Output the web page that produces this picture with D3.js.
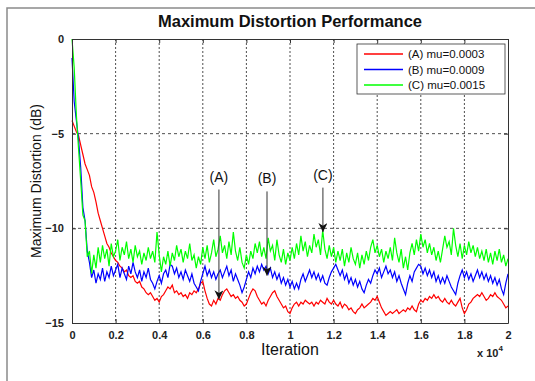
<!DOCTYPE html>
<html>
<head>
<meta charset="utf-8">
<script src="https://cdn.jsdelivr.net/npm/d3@7"></script>
<style>
  body { margin: 0; background: #fff; }
  text { font-family: Arial, "Liberation Sans", sans-serif; }
</style>
</head>
<body>
<div id="chart"></div>
<script>
// iteration grid: 0..20000 step 100
const iterations = d3.range(0, 20001, 100);

const seriesA = [
  -4.3, -4.6, -4.9, -5.1, -5.6, -6.1, -6.6, -6.9, -7.2, -7.8,
  -8.1, -8.6, -9.2, -9.6, -10.0, -10.4, -10.8, -11.0, -11.3, -11.5,
  -11.7, -11.8, -12.0, -12.1, -12.3, -12.2, -12.5, -12.6, -12.5, -12.8,
  -12.9, -12.8, -13.1, -13.2, -13.4, -13.5, -13.4, -13.6, -13.8, -13.7,
  -13.9, -13.6, -13.5, -13.3, -13.1, -13.2, -13.0, -13.4, -13.3, -13.5,
  -13.4, -13.6, -13.5, -13.7, -13.4, -13.5, -13.3, -13.4, -13.2, -12.9,
  -12.8, -13.3, -13.7, -14.0, -14.1, -13.8, -14.0, -13.7, -13.8, -13.5,
  -13.3, -13.2, -13.4, -13.6, -13.5, -13.7, -13.6, -13.8, -13.9, -14.1,
  -14.0, -13.7, -13.4, -13.2, -13.3, -13.6, -13.8, -14.0, -13.9, -14.1,
  -13.8, -13.6, -13.4, -13.3, -13.6, -13.8, -14.0, -14.2, -14.1, -14.4,
  -14.5, -14.2, -14.0, -13.9, -14.1, -13.9, -14.0, -13.8, -13.9, -14.0,
  -13.9, -14.1, -13.9, -14.0, -13.8, -13.9, -14.0, -13.7, -13.9, -14.0,
  -13.8, -14.0, -14.1, -13.9, -14.2, -14.0, -14.1, -14.3, -14.2, -14.4,
  -14.5, -14.3, -14.2, -14.0, -14.2, -14.1, -14.0, -13.9, -13.7, -13.8,
  -13.6, -13.9, -14.2, -14.4, -14.6, -14.5, -14.4, -14.5, -14.4, -14.3,
  -14.5, -14.4, -14.3, -14.4, -14.2, -14.3, -14.1, -14.3, -14.4, -14.0,
  -13.8, -13.9, -13.7, -13.8, -13.6, -13.7, -13.5, -13.7, -13.6, -13.8,
  -13.9, -13.7, -13.9, -14.0, -13.8, -14.0, -14.1, -13.9, -13.7, -14.2,
  -14.5, -14.3, -14.0, -13.9, -13.7, -13.6, -13.5, -13.6, -13.4, -13.6,
  -13.8, -13.7, -13.5, -13.6, -13.4, -13.6, -13.7, -13.8, -14.0, -14.2,
  -14.1
];

const seriesB = [
  -1.0, -3.3, -4.3, -5.3, -6.8, -8.9, -9.6, -11.2, -11.8, -12.6,
  -12.2, -12.9, -12.4, -12.7, -12.1, -12.8, -12.3, -12.6, -12.0, -12.5,
  -12.2, -11.9, -12.6, -12.1, -12.4, -12.7, -12.0, -12.4, -11.8, -12.3,
  -12.6, -12.2, -12.8, -12.3, -12.6, -12.1, -12.7, -12.9, -13.2, -12.8,
  -12.5, -12.9, -12.4, -12.2, -12.6, -11.9, -12.0, -12.4, -12.1, -12.6,
  -12.3, -12.7, -12.2, -12.5, -12.8, -12.4, -12.9, -13.1, -13.3, -12.8,
  -12.4, -12.0, -12.5, -12.2, -12.6, -12.3, -12.7, -12.4, -12.2, -12.6,
  -12.3, -12.0, -12.5, -12.2, -12.8, -12.4, -12.7, -13.0, -13.4, -13.1,
  -12.7, -12.3, -12.6, -12.1, -12.4, -12.0, -12.3, -11.9, -12.2, -12.0,
  -12.4, -12.1, -12.6, -12.3, -12.7, -12.4, -12.9, -12.6, -13.0, -12.7,
  -13.1, -12.8, -13.2, -12.9, -13.2, -12.7, -12.4, -12.8, -12.5, -12.2,
  -12.6, -12.3, -12.7, -12.4, -12.8, -12.5, -12.9, -13.0, -12.6, -12.3,
  -12.1, -11.9, -12.2, -12.5, -12.2, -12.7, -12.4, -12.9, -12.6, -13.0,
  -12.7, -13.1, -12.8, -13.2, -13.4, -13.0, -12.7, -12.9, -12.5, -12.2,
  -12.4, -12.1, -12.6, -12.3, -12.0, -12.4, -12.2, -12.6, -12.3, -12.8,
  -12.5, -12.9, -13.2, -13.5, -12.9, -12.5, -12.8, -12.3, -12.1, -11.9,
  -12.0, -12.4, -12.1, -12.5, -12.2, -12.6, -12.3, -12.8, -12.5, -12.9,
  -12.6, -12.9, -12.5, -12.8, -13.1, -13.3, -13.5, -12.9, -12.5, -12.2,
  -12.6, -12.3, -12.7, -12.4, -12.8, -12.5, -12.2, -12.6, -12.3, -12.7,
  -12.4, -12.8, -12.5, -12.9, -12.6, -13.0, -12.7, -13.2, -13.5, -12.9,
  -12.4
];

const seriesC = [
  0.0, -1.5, -4.0, -5.8, -7.5, -9.3, -9.6, -11.5, -11.2, -12.4,
  -11.4, -12.1, -11.0, -11.8, -10.9, -11.6, -11.1, -12.0, -10.8, -11.5,
  -11.2, -10.6, -11.7, -11.0, -11.4, -10.7, -11.6, -11.1, -11.8, -10.9,
  -11.5, -11.2, -11.9, -11.3, -11.7, -11.0, -11.6, -11.2, -11.8, -10.2,
  -11.4, -12.3, -11.5, -11.9, -11.2, -12.0, -11.3, -11.7, -10.9, -11.5,
  -11.1, -11.8, -11.2, -11.6, -10.8, -11.7, -11.4, -12.1, -11.5, -11.9,
  -11.0, -11.6, -10.9, -11.8, -11.3, -10.6, -11.5, -11.1, -10.4, -11.3,
  -10.9, -11.6, -10.7, -11.4, -10.2, -11.2, -11.7, -11.0, -11.8, -12.1,
  -11.4, -11.9, -11.2, -11.6, -10.8, -11.3, -10.7, -11.5, -11.0, -11.6,
  -10.5, -11.2, -10.9, -11.7, -10.6, -11.4, -11.8, -11.1, -11.9, -11.3,
  -11.7, -11.0, -11.6, -10.8, -11.4, -10.4, -11.2, -10.7, -11.5, -10.9,
  -11.3, -10.3, -11.0, -10.6, -11.4, -10.1, -11.1, -11.6, -10.9, -11.5,
  -11.0, -11.8, -11.2, -11.7, -11.1, -12.0, -11.3, -11.8, -11.0, -11.6,
  -11.9, -11.3, -12.1, -11.4, -11.9, -11.2, -11.7, -11.0, -10.6, -11.3,
  -10.9, -11.5, -11.1, -11.8, -11.2, -11.6, -11.0, -11.7, -10.5, -11.3,
  -11.8, -11.1, -12.1, -11.5, -12.2, -11.3, -10.8, -11.4, -10.6, -11.2,
  -10.3, -11.0, -10.6, -11.3, -10.8, -11.4, -11.0, -11.7, -11.2, -11.8,
  -11.1, -10.4, -11.0, -10.7, -11.4, -10.0, -10.9, -11.5, -10.8, -11.6,
  -10.9, -11.4, -10.7, -11.3, -10.9, -11.5, -11.0, -11.6, -11.2, -11.7,
  -11.1, -11.8, -11.3, -11.9, -11.2, -11.7, -11.1, -11.8, -11.4, -12.0,
  -11.6
];

const legendLabels = ['(A) mu=0.0003', '(B) mu=0.0009', '(C) mu=0.0015'];
const seriesColors = ['#ff0000', '#0000ff', '#00ff00'];
const xTicks = [0, 2000, 4000, 6000, 8000, 10000, 12000, 14000, 16000, 18000, 20000];
const xTickLabels = ['0', '0.2', '0.4', '0.6', '0.8', '1', '1.2', '1.4', '1.6', '1.8', '2'];
const yTicks = [0, -5, -10, -15];

// annotation arrows: label, iteration, start value, tip value
const notes = [
  { label: '(A)', iter: 6740, from: -7.95, to: -13.75 },
  { label: '(B)', iter: 8945, from: -8.05, to: -12.5 },
  { label: '(C)', iter: 11510, from: -7.85, to: -10.2 }
];

const width = 535, height = 381;
const margin = { left: 72, right: 27, top: 39, bottom: 58 };
const w = width - margin.left - margin.right;
const h = height - margin.top - margin.bottom;

const svg = d3.select('#chart').append('svg')
  .attr('width', width).attr('height', height);

// outer frame
svg.append('rect')
  .attr('x', 7).attr('y', 8).attr('width', 560).attr('height', 400)
  .attr('fill', 'none').attr('stroke', '#8a8a8a').attr('stroke-width', 1.5);

const x = d3.scaleLinear().domain([0, 20000]).range([0, w]);
const y = d3.scaleLinear().domain([-15, 0]).range([h, 0]);

const g = svg.append('g').attr('transform', `translate(${margin.left},${margin.top})`);

// grid
g.append('g').selectAll('line').data(xTicks.slice(1, -1)).enter().append('line')
  .attr('x1', d => x(d)).attr('x2', d => x(d))
  .attr('y1', 0).attr('y2', h)
  .attr('stroke', '#222').attr('stroke-width', 0.8).attr('stroke-dasharray', '2,2');
g.append('g').selectAll('line').data(yTicks.slice(1, -1)).enter().append('line')
  .attr('x1', 0).attr('x2', w)
  .attr('y1', d => y(d)).attr('y2', d => y(d))
  .attr('stroke', '#222').attr('stroke-width', 0.8).attr('stroke-dasharray', '3,3');

// lines
const line = d3.line().x((d, i) => x(iterations[i])).y(d => y(d));
[seriesA, seriesB, seriesC].forEach((s, i) => {
  g.append('path').datum(s)
    .attr('d', line)
    .attr('fill', 'none')
    .attr('stroke', seriesColors[i])
    .attr('stroke-width', 1.2);
});

// axes (ticks inside, MATLAB style)
const xAxis = d3.axisBottom(x).tickValues(xTicks).tickFormat((d, i) => xTickLabels[i]).tickSizeInner(-4).tickSizeOuter(0).tickPadding(8);
const yAxis = d3.axisLeft(y).tickValues(yTicks).tickFormat(d3.format('d')).tickSizeInner(-4).tickSizeOuter(0).tickPadding(8);
const xTop = d3.axisTop(x).tickValues(xTicks).tickFormat('').tickSizeInner(-4).tickSizeOuter(0);
const yRight = d3.axisRight(y).tickValues(yTicks).tickFormat('').tickSizeInner(-4).tickSizeOuter(0);

const styleAxis = sel => {
  sel.select('.domain').attr('stroke', '#333');
  sel.selectAll('.tick line').attr('stroke', '#333');
  sel.selectAll('.tick text')
    .attr('fill', '#222')
    .style('font-size', '11px')
    .style('font-weight', 'bold')
    .style('font-family', 'Arial, "Liberation Sans", sans-serif');
};
g.append('g').attr('transform', `translate(0,${h})`).call(xAxis).call(styleAxis);
g.append('g').call(yAxis).call(styleAxis);
g.append('g').call(xTop).call(styleAxis);
g.append('g').attr('transform', `translate(${w},0)`).call(yRight).call(styleAxis);

// legend
const lg = g.append('g').attr('transform', `translate(${w - 151},5)`);
lg.append('rect').attr('width', 148).attr('height', 50)
  .attr('fill', '#fff').attr('stroke', '#333').attr('stroke-width', 0.8);
legendLabels.forEach((lab, i) => {
  const yy = 10 + i * 15.5;
  lg.append('line').attr('x1', 7).attr('x2', 46).attr('y1', yy).attr('y2', yy)
    .attr('stroke', seriesColors[i]).attr('stroke-width', 1.6);
  lg.append('text').attr('x', 51).attr('y', yy + 4)
    .style('font-size', '11.5px').attr('fill', '#111').text(lab);
});

// annotations
svg.append('defs').append('marker')
  .attr('id', 'head').attr('viewBox', '0 0 10 10')
  .attr('refX', 10).attr('refY', 5)
  .attr('markerWidth', 9).attr('markerHeight', 9)
  .attr('markerUnits', 'userSpaceOnUse')
  .attr('orient', 'auto')
  .append('path').attr('d', 'M0,0 L10,5 L0,10 L3,5 Z').attr('fill', '#111');

notes.forEach(n => {
  g.append('line')
    .attr('x1', x(n.iter)).attr('x2', x(n.iter))
    .attr('y1', y(n.from)).attr('y2', y(n.to))
    .attr('stroke', '#333').attr('stroke-width', 1)
    .attr('marker-end', 'url(#head)');
  g.append('text')
    .attr('x', x(n.iter)).attr('y', y(n.from) - 8)
    .attr('text-anchor', 'middle')
    .style('font-size', '14px').attr('fill', '#111')
    .text(n.label);
});

// titles
svg.append('text').attr('x', margin.left + w / 2).attr('y', 27)
  .attr('text-anchor', 'middle').style('font-size', '16.5px').style('font-weight', 'bold')
  .attr('fill', '#111').text('Maximum Distortion Performance');
svg.append('text').attr('x', margin.left + w / 2).attr('y', 355)
  .attr('text-anchor', 'middle').style('font-size', '16px')
  .attr('fill', '#111').text('Iteration');
svg.append('text')
  .attr('transform', `translate(41,${margin.top + h / 2}) rotate(-90)`)
  .attr('text-anchor', 'middle').style('font-size', '14px')
  .attr('fill', '#111').text('Maximum Distortion (dB)');
const ex = svg.append('text').attr('x', 477).attr('y', 357)
  .style('font-size', '11px').style('font-weight', 'bold').attr('fill', '#222');
ex.append('tspan').text('x 10');
ex.append('tspan').attr('dy', -6).style('font-size', '8px').text('4');
</script>
</body>
</html>
